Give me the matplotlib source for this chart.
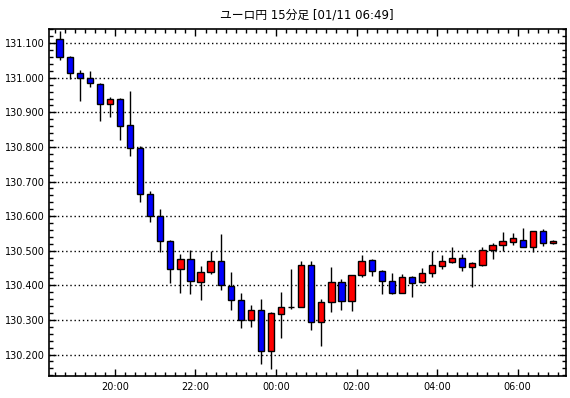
import numpy as np
import pandas as pd
import matplotlib
matplotlib.use("Agg")
import matplotlib.pyplot as plt
import matplotlib.dates as mdates
from matplotlib.ticker import MultipleLocator, FormatStrFormatter

plt.rcParams['font.family'] = ['DejaVu Sans', 'Noto Sans CJK JP']

title = "ユーロ円 15分足 [01/11 06:49]"
start = "2024-01-10 18:30"

opens = [131.112, 131.060, 131.014, 131.000, 130.983, 130.924, 130.939, 130.863, 130.798, 130.663,
         130.600, 130.529, 130.447, 130.477, 130.410, 130.438, 130.469, 130.399, 130.359, 130.301,
         130.330, 130.209, 130.318, 130.337, 130.338, 130.460, 130.293, 130.351, 130.409, 130.354,
         130.429, 130.473, 130.441, 130.412, 130.379, 130.425, 130.410, 130.437, 130.456, 130.467,
         130.480, 130.454, 130.460, 130.503, 130.517, 130.525, 130.532, 130.510, 130.558, 130.523]
highs = [131.136, 131.062, 131.023, 131.020, 130.985, 130.944, 130.942, 130.962, 130.803, 130.672,
         130.622, 130.530, 130.492, 130.503, 130.455, 130.500, 130.548, 130.440, 130.378, 130.342,
         130.362, 130.322, 130.380, 130.446, 130.469, 130.469, 130.360, 130.454, 130.418, 130.429,
         130.488, 130.476, 130.444, 130.435, 130.434, 130.428, 130.449, 130.500, 130.488, 130.510,
         130.490, 130.467, 130.510, 130.523, 130.553, 130.552, 130.566, 130.556, 130.562, 130.532]
lows = [131.050, 130.996, 130.934, 130.972, 130.874, 130.888, 130.819, 130.773, 130.640, 130.584,
        130.497, 130.406, 130.377, 130.374, 130.357, 130.434, 130.387, 130.329, 130.277, 130.280,
        130.174, 130.159, 130.248, 130.332, 130.336, 130.270, 130.225, 130.322, 130.330, 130.327,
        130.424, 130.426, 130.374, 130.376, 130.377, 130.365, 130.408, 130.425, 130.448, 130.465,
        130.442, 130.396, 130.457, 130.476, 130.500, 130.517, 130.510, 130.495, 130.513, 130.520]
closes = [131.060, 131.013, 131.000, 130.985, 130.924, 130.938, 130.862, 130.797, 130.664, 130.600,
          130.528, 130.447, 130.477, 130.413, 130.440, 130.469, 130.401, 130.358, 130.301, 130.330,
          130.209, 130.319, 130.338, 130.337, 130.460, 130.293, 130.353, 130.409, 130.354, 130.429,
          130.470, 130.441, 130.412, 130.379, 130.424, 130.408, 130.437, 130.458, 130.470, 130.480,
          130.454, 130.464, 130.503, 130.517, 130.527, 130.536, 130.510, 130.556, 130.523, 130.529]

times = pd.date_range(start, periods=len(opens), freq="15min")
x = mdates.date2num(times + pd.Timedelta(minutes=7.5))

o = np.array(opens)
c = np.array(closes)
colors = np.where(c >= o, "#ff0000", "#0000ff")

fig = plt.figure(figsize=(5.7, 3.98), dpi=100)
ax = fig.add_axes([48.5 / 570, 22 / 398, (566 - 48.5) / 570, (376 - 29) / 398])

ax.vlines(x, lows, highs, color="black", linewidth=1.0, zorder=2)
ax.bar(x, c - o, bottom=o, width=0.155 / 24, color=colors,
       edgecolor="black", linewidth=1.0, zorder=3)

ax.set_ylim(130.138, 131.141)
ax.set_xlim(mdates.date2num(pd.Timestamp("2024-01-10 18:21")),
            mdates.date2num(pd.Timestamp("2024-01-11 07:12")))

ax.yaxis.set_major_locator(MultipleLocator(0.1))
ax.yaxis.set_minor_locator(MultipleLocator(0.02))
ax.yaxis.set_major_formatter(FormatStrFormatter("%.3f"))
ax.xaxis.set_major_locator(mdates.HourLocator(byhour=range(0, 24, 2)))
ax.xaxis.set_minor_locator(mdates.MinuteLocator(byminute=[0, 15, 30, 45]))
ax.xaxis.set_major_formatter(mdates.DateFormatter("%H:%M"))

ax.grid(axis="y", which="major", color="black", linestyle=(0, (1, 2)), linewidth=1.0)
ax.tick_params(which="both", direction="in", top=True, right=True, labelsize=7,
               color="black", width=1.0)
ax.tick_params(which="major", length=5, pad=3)
ax.tick_params(axis="x", which="major", pad=4)
ax.tick_params(which="minor", length=3)
for s in ax.spines.values():
    s.set_linewidth(1.2)

fig.text(307 / 570, 1 - 15 / 398, title, ha="center", va="center", fontsize=8.5)

fig.savefig("out.png", dpi=100)
